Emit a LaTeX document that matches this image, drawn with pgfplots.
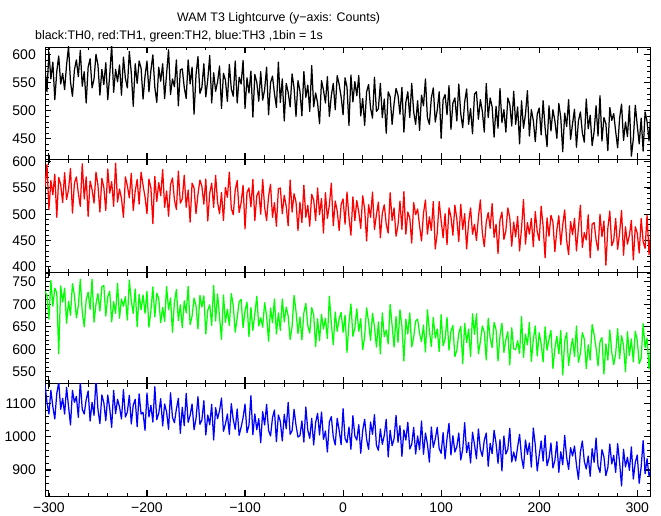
\documentclass[border=0pt]{standalone}
\usepackage{fontspec}
\setmainfont{Liberation Sans}
\usepackage{pgfplots}
\usepackage{pgfplotstable}
\pgfplotsset{compat=1.18}

\definecolor{cgreen}{RGB}{0,255,0}
\definecolor{cred}{RGB}{255,0,0}
\definecolor{cblue}{RGB}{0,0,255}

% TH0 (black), 2 s samples from x = -304
\pgfplotstableread[row sep=\\]{
y\\
577\\ 534\\ 605\\ 557\\ 587\\ 520\\ 570\\ 598\\ 548\\ 567\\
538\\ 582\\ 615\\ 552\\ 526\\ 573\\ 591\\ 561\\ 608\\ 544\\
570\\ 514\\ 578\\ 593\\ 541\\ 557\\ 601\\ 582\\ 528\\ 574\\
547\\ 586\\ 520\\ 564\\ 618\\ 533\\ 574\\ 552\\ 582\\ 528\\
596\\ 558\\ 541\\ 606\\ 568\\ 508\\ 584\\ 549\\ 589\\ 576\\
521\\ 562\\ 589\\ 534\\ 572\\ 600\\ 542\\ 515\\ 578\\ 553\\
584\\ 522\\ 566\\ 609\\ 529\\ 557\\ 543\\ 591\\ 509\\ 573\\
575\\ 542\\ 522\\ 591\\ 548\\ 578\\ 494\\ 564\\ 597\\ 531\\
542\\ 584\\ 525\\ 556\\ 599\\ 514\\ 568\\ 535\\ 552\\ 580\\
504\\ 567\\ 555\\ 517\\ 583\\ 539\\ 526\\ 589\\ 514\\ 560\\
548\\ 590\\ 504\\ 559\\ 532\\ 571\\ 489\\ 565\\ 551\\ 517\\
570\\ 519\\ 538\\ 578\\ 493\\ 550\\ 562\\ 531\\ 506\\ 587\\
515\\ 557\\ 482\\ 549\\ 533\\ 507\\ 566\\ 541\\ 490\\ 554\\
535\\ 491\\ 570\\ 524\\ 546\\ 499\\ 581\\ 507\\ 532\\ 514\\
477\\ 554\\ 537\\ 514\\ 561\\ 490\\ 527\\ 549\\ 502\\ 563\\
547\\ 525\\ 493\\ 559\\ 542\\ 474\\ 564\\ 516\\ 552\\ 527\\
563\\ 491\\ 522\\ 474\\ 534\\ 547\\ 505\\ 487\\ 560\\ 499\\
504\\ 549\\ 488\\ 521\\ 460\\ 534\\ 525\\ 476\\ 513\\ 540\\
528\\ 494\\ 542\\ 462\\ 515\\ 534\\ 488\\ 549\\ 498\\ 476\\
518\\ 465\\ 528\\ 509\\ 557\\ 488\\ 476\\ 523\\ 541\\ 480\\
501\\ 534\\ 451\\ 520\\ 529\\ 493\\ 545\\ 467\\ 514\\ 523\\
482\\ 548\\ 495\\ 470\\ 516\\ 539\\ 476\\ 504\\ 459\\ 530\\
534\\ 485\\ 520\\ 499\\ 462\\ 549\\ 488\\ 523\\ 507\\ 453\\
508\\ 469\\ 540\\ 479\\ 502\\ 462\\ 523\\ 512\\ 473\\ 535\\
476\\ 507\\ 441\\ 518\\ 469\\ 494\\ 536\\ 455\\ 502\\ 483\\
445\\ 494\\ 505\\ 457\\ 518\\ 470\\ 436\\ 509\\ 464\\ 502\\
482\\ 451\\ 513\\ 488\\ 427\\ 496\\ 472\\ 520\\ 449\\ 477\\
503\\ 435\\ 482\\ 498\\ 461\\ 444\\ 521\\ 468\\ 492\\ 438\\
463\\ 509\\ 455\\ 527\\ 446\\ 488\\ 477\\ 429\\ 506\\ 483\\
495\\ 463\\ 434\\ 487\\ 512\\ 447\\ 480\\ 454\\ 509\\ 419\\
450\\ 510\\ 474\\ 441\\ 487\\ 428\\ 498\\ 481\\ 446\\ 503\\
}\tblack

% TH1 (red)
\pgfplotstableread[row sep=\\]{
y\\
553\\ 595\\ 509\\ 564\\ 537\\ 576\\ 494\\ 570\\ 556\\ 522\\
579\\ 528\\ 547\\ 587\\ 502\\ 559\\ 571\\ 540\\ 515\\ 596\\
529\\ 571\\ 496\\ 563\\ 547\\ 521\\ 580\\ 555\\ 504\\ 568\\
551\\ 507\\ 586\\ 540\\ 562\\ 515\\ 597\\ 523\\ 548\\ 530\\
494\\ 571\\ 554\\ 531\\ 578\\ 507\\ 544\\ 566\\ 519\\ 580\\
555\\ 533\\ 501\\ 567\\ 550\\ 482\\ 572\\ 524\\ 560\\ 535\\
585\\ 513\\ 544\\ 496\\ 556\\ 569\\ 527\\ 509\\ 582\\ 521\\
529\\ 574\\ 513\\ 546\\ 485\\ 559\\ 550\\ 501\\ 538\\ 565\\
553\\ 519\\ 567\\ 487\\ 540\\ 559\\ 513\\ 574\\ 523\\ 501\\
541\\ 488\\ 551\\ 532\\ 580\\ 511\\ 499\\ 546\\ 564\\ 503\\
522\\ 555\\ 472\\ 541\\ 550\\ 514\\ 566\\ 488\\ 535\\ 544\\
500\\ 566\\ 513\\ 488\\ 534\\ 557\\ 494\\ 522\\ 477\\ 548\\
550\\ 501\\ 536\\ 515\\ 478\\ 565\\ 504\\ 539\\ 523\\ 469\\
523\\ 484\\ 555\\ 494\\ 517\\ 477\\ 538\\ 527\\ 488\\ 550\\
499\\ 530\\ 464\\ 541\\ 492\\ 517\\ 559\\ 478\\ 525\\ 506\\
469\\ 518\\ 529\\ 481\\ 542\\ 494\\ 460\\ 533\\ 488\\ 526\\
504\\ 473\\ 535\\ 510\\ 449\\ 518\\ 494\\ 542\\ 471\\ 499\\
523\\ 455\\ 502\\ 518\\ 481\\ 464\\ 541\\ 488\\ 512\\ 458\\
479\\ 525\\ 471\\ 543\\ 462\\ 504\\ 493\\ 445\\ 522\\ 499\\
510\\ 478\\ 449\\ 502\\ 527\\ 462\\ 495\\ 469\\ 524\\ 434\\
464\\ 524\\ 488\\ 455\\ 501\\ 442\\ 512\\ 495\\ 460\\ 517\\
491\\ 448\\ 519\\ 471\\ 501\\ 434\\ 484\\ 512\\ 462\\ 481\\
450\\ 494\\ 527\\ 464\\ 438\\ 485\\ 503\\ 473\\ 520\\ 456\\
481\\ 425\\ 489\\ 504\\ 452\\ 468\\ 512\\ 493\\ 439\\ 485\\
457\\ 496\\ 430\\ 474\\ 528\\ 443\\ 484\\ 462\\ 492\\ 438\\
505\\ 467\\ 450\\ 515\\ 477\\ 417\\ 493\\ 458\\ 498\\ 485\\
429\\ 470\\ 497\\ 442\\ 480\\ 508\\ 450\\ 423\\ 486\\ 461\\
492\\ 430\\ 474\\ 517\\ 437\\ 465\\ 451\\ 499\\ 417\\ 481\\
484\\ 451\\ 431\\ 500\\ 457\\ 487\\ 403\\ 473\\ 506\\ 440\\
450\\ 492\\ 433\\ 464\\ 507\\ 422\\ 476\\ 443\\ 460\\ 488\\
413\\ 476\\ 464\\ 426\\ 492\\ 448\\ 435\\ 498\\ 423\\ 469\\
}\tred

% TH2 (green)
\pgfplotstableread[row sep=\\]{
y\\
729\\ 719\\ 667\\ 753\\ 696\\ 736\\ 726\\ 590\\ 741\\ 705\\
736\\ 658\\ 707\\ 676\\ 746\\ 720\\ 670\\ 697\\ 756\\ 683\\
650\\ 710\\ 727\\ 689\\ 756\\ 660\\ 701\\ 724\\ 685\\ 739\\
742\\ 674\\ 717\\ 729\\ 661\\ 706\\ 680\\ 747\\ 669\\ 712\\
696\\ 717\\ 665\\ 754\\ 708\\ 680\\ 734\\ 650\\ 722\\ 688\\
721\\ 680\\ 729\\ 649\\ 686\\ 739\\ 672\\ 725\\ 713\\ 659\\
693\\ 662\\ 740\\ 688\\ 714\\ 638\\ 705\\ 733\\ 664\\ 699\\
648\\ 708\\ 681\\ 740\\ 655\\ 674\\ 714\\ 697\\ 645\\ 720\\
694\\ 719\\ 634\\ 687\\ 699\\ 653\\ 742\\ 663\\ 723\\ 672\\
622\\ 721\\ 660\\ 689\\ 653\\ 724\\ 697\\ 638\\ 670\\ 706\\
711\\ 648\\ 686\\ 705\\ 628\\ 693\\ 642\\ 679\\ 718\\ 652\\
670\\ 649\\ 704\\ 674\\ 618\\ 692\\ 659\\ 712\\ 634\\ 681\\
642\\ 712\\ 661\\ 694\\ 674\\ 622\\ 651\\ 720\\ 684\\ 635\\
672\\ 621\\ 681\\ 702\\ 653\\ 636\\ 693\\ 677\\ 606\\ 668\\
619\\ 678\\ 645\\ 669\\ 624\\ 718\\ 658\\ 610\\ 683\\ 640\\
668\\ 682\\ 638\\ 676\\ 593\\ 659\\ 701\\ 629\\ 648\\ 690\\
640\\ 668\\ 599\\ 628\\ 692\\ 661\\ 620\\ 680\\ 650\\ 605\\
661\\ 590\\ 681\\ 628\\ 643\\ 612\\ 700\\ 653\\ 605\\ 673\\
615\\ 688\\ 651\\ 574\\ 667\\ 634\\ 681\\ 605\\ 627\\ 663\\
667\\ 636\\ 617\\ 654\\ 594\\ 688\\ 641\\ 606\\ 671\\ 625\\
645\\ 595\\ 677\\ 608\\ 622\\ 671\\ 598\\ 640\\ 653\\ 584\\
598\\ 636\\ 651\\ 568\\ 658\\ 615\\ 645\\ 584\\ 679\\ 633\\
679\\ 590\\ 617\\ 652\\ 638\\ 576\\ 669\\ 625\\ 604\\ 660\\
644\\ 574\\ 630\\ 658\\ 593\\ 621\\ 639\\ 565\\ 648\\ 601\\
599\\ 619\\ 591\\ 673\\ 582\\ 634\\ 610\\ 660\\ 573\\ 622\\
652\\ 585\\ 637\\ 612\\ 572\\ 650\\ 598\\ 623\\ 642\\ 557\\
602\\ 629\\ 590\\ 642\\ 543\\ 618\\ 637\\ 564\\ 599\\ 624\\
584\\ 652\\ 571\\ 591\\ 637\\ 623\\ 557\\ 610\\ 576\\ 655\\
633\\ 603\\ 563\\ 617\\ 626\\ 545\\ 612\\ 576\\ 643\\ 593\\
566\\ 590\\ 646\\ 579\\ 630\\ 609\\ 550\\ 639\\ 586\\ 623\\
572\\ 640\\ 620\\ 568\\ 581\\ 657\\ 604\\ 625\\ 556\\ 614\\
}\tgreen

% TH3 (blue)
\pgfplotstableread[row sep=\\]{
y\\
1156\\ 1103\\ 1068\\ 1139\\ 1090\\ 1053\\ 1129\\ 1164\\ 1082\\ 1115\\
1068\\ 1148\\ 1091\\ 1035\\ 1139\\ 1103\\ 1121\\ 1058\\ 1165\\ 1082\\
1068\\ 1111\\ 1137\\ 1047\\ 1103\\ 1064\\ 1173\\ 1082\\ 1039\\ 1125\\
1102\\ 1048\\ 1125\\ 1084\\ 1028\\ 1139\\ 1069\\ 1112\\ 1089\\ 1053\\
1141\\ 1059\\ 1074\\ 1124\\ 1038\\ 1095\\ 1112\\ 1030\\ 1128\\ 1068\\
1073\\ 1019\\ 1131\\ 1059\\ 1094\\ 1044\\ 1150\\ 1051\\ 1070\\ 1114\\
1032\\ 1098\\ 1074\\ 1022\\ 1132\\ 1058\\ 1042\\ 1083\\ 1115\\ 1010\\
1088\\ 1033\\ 1130\\ 1043\\ 1064\\ 1098\\ 1021\\ 1054\\ 1120\\ 1037\\
1050\\ 1108\\ 1005\\ 1065\\ 1036\\ 1097\\ 990\\ 1087\\ 1054\\ 1078\\
1116\\ 1016\\ 1038\\ 1068\\ 1007\\ 1099\\ 1051\\ 1022\\ 1083\\ 1004\\
1028\\ 1057\\ 1098\\ 1012\\ 1034\\ 1123\\ 1006\\ 1068\\ 1021\\ 1054\\
982\\ 1075\\ 1035\\ 1097\\ 1019\\ 1002\\ 1057\\ 1080\\ 985\\ 1065\\
1046\\ 987\\ 1067\\ 1024\\ 1103\\ 1007\\ 1018\\ 1082\\ 1034\\ 999\\
1003\\ 1047\\ 984\\ 1089\\ 1020\\ 995\\ 1055\\ 975\\ 1042\\ 1070\\
1005\\ 1074\\ 992\\ 1017\\ 954\\ 1044\\ 1060\\ 999\\ 975\\ 1055\\
1019\\ 976\\ 1084\\ 994\\ 982\\ 1029\\ 962\\ 1063\\ 1002\\ 990\\
1036\\ 950\\ 1019\\ 1052\\ 992\\ 962\\ 1044\\ 1007\\ 1066\\ 974\\
959\\ 1023\\ 977\\ 1004\\ 1052\\ 939\\ 1019\\ 973\\ 994\\ 1064\\
983\\ 1033\\ 941\\ 1020\\ 990\\ 1043\\ 963\\ 977\\ 1028\\ 948\\
1002\\ 961\\ 1047\\ 947\\ 1011\\ 978\\ 924\\ 1029\\ 968\\ 993\\
1028\\ 964\\ 950\\ 1012\\ 933\\ 995\\ 1040\\ 945\\ 1003\\ 954\\
970\\ 1011\\ 930\\ 962\\ 1042\\ 952\\ 983\\ 921\\ 1013\\ 977\\
934\\ 1023\\ 962\\ 941\\ 989\\ 1011\\ 911\\ 980\\ 949\\ 1019\\
980\\ 920\\ 991\\ 897\\ 1002\\ 948\\ 962\\ 1025\\ 924\\ 954\\
927\\ 969\\ 1007\\ 938\\ 905\\ 990\\ 947\\ 981\\ 909\\ 1026\\
975\\ 897\\ 944\\ 987\\ 927\\ 1004\\ 913\\ 935\\ 981\\ 906\\
929\\ 985\\ 893\\ 955\\ 916\\ 1004\\ 938\\ 902\\ 967\\ 942\\
972\\ 915\\ 872\\ 954\\ 987\\ 926\\ 903\\ 942\\ 881\\ 964\\
923\\ 996\\ 912\\ 893\\ 961\\ 940\\ 883\\ 907\\ 978\\ 918\\
944\\ 893\\ 979\\ 922\\ 852\\ 962\\ 909\\ 938\\ 899\\ 969\\
873\\ 923\\ 945\\ 860\\ 910\\ 988\\ 889\\ 934\\ 882\\ 899\\
}\tblue

\pgfplotsset{panel/.style={
  scale only axis, width=605pt,
  xmin=-304, xmax=313,
  xtick={-300,-200,...,300},
  minor xtick={-300,-280,...,300},
  tick align=inside, tick pos=both,
  xticklabel pos=lower, yticklabel pos=left,
  major tick length=6pt, minor tick length=3.5pt,
  tick style={black},
  major tick style={line width=1.1pt},
  minor tick style={line width=0.8pt},
  axis line style={line width=0.9pt},
  ticklabel style={font=\fontsize{14}{16}\selectfont, inner sep=0pt},
  yticklabel style={xshift=-9pt},
  xticklabel style={yshift=-7pt},
  /pgf/number format/assume math mode=true,
  /pgf/number format/1000 sep={},
  xticklabels={},
  anchor=south west,
},
lc/.style={sharp plot, line width=1.25pt, line join=round, mark=none}
}

\begin{document}
\begin{tikzpicture}
\path[use as bounding box] (0,0) rectangle (661pt,515pt);

\node[anchor=base west, inner sep=0pt, font=\fontsize{12.4}{14}\selectfont] at (177pt,493.5pt) {WAM T3 Lightcurve (y−axis: Counts)};
\node[anchor=base west, inner sep=0pt, font=\fontsize{12.4}{14}\selectfont] at (35pt,475pt) {black:TH0, red:TH1, green:TH2, blue:TH3 ,1bin = 1s};

\begin{axis}[panel, at={(45pt,356pt)}, height=112pt,
  ymin=414, ymax=614, ytick={450,500,550,600}, minor ytick={420,430,...,610}]
\addplot[lc, color=black] table[x expr=2*\coordindex-304, y=y] {\tblack};
\end{axis}

\begin{axis}[panel, at={(45pt,243pt)}, height=113pt,
  ymin=390, ymax=605, ytick={400,450,500,550,600}, minor ytick={400,410,...,600}]
\addplot[lc, color=cred] table[x expr=2*\coordindex-304, y=y] {\tred};
\end{axis}

\begin{axis}[panel, at={(45pt,132pt)}, height=111pt,
  ymin=525, ymax=772, ytick={550,600,650,700,750}, minor ytick={530,540,...,770}]
\addplot[lc, color=cgreen] table[x expr=2*\coordindex-304, y=y] {\tgreen};
\end{axis}

\begin{axis}[panel, at={(45pt,19pt)}, height=113pt,
  ymin=822, ymax=1161, ytick={900,1000,1100}, minor ytick={840,860,...,1160},
  xticklabels={−300,−200,−100,0,100,200,300}]
\addplot[lc, color=cblue] table[x expr=2*\coordindex-304, y=y] {\tblue};
\end{axis}
\end{tikzpicture}
\end{document}
